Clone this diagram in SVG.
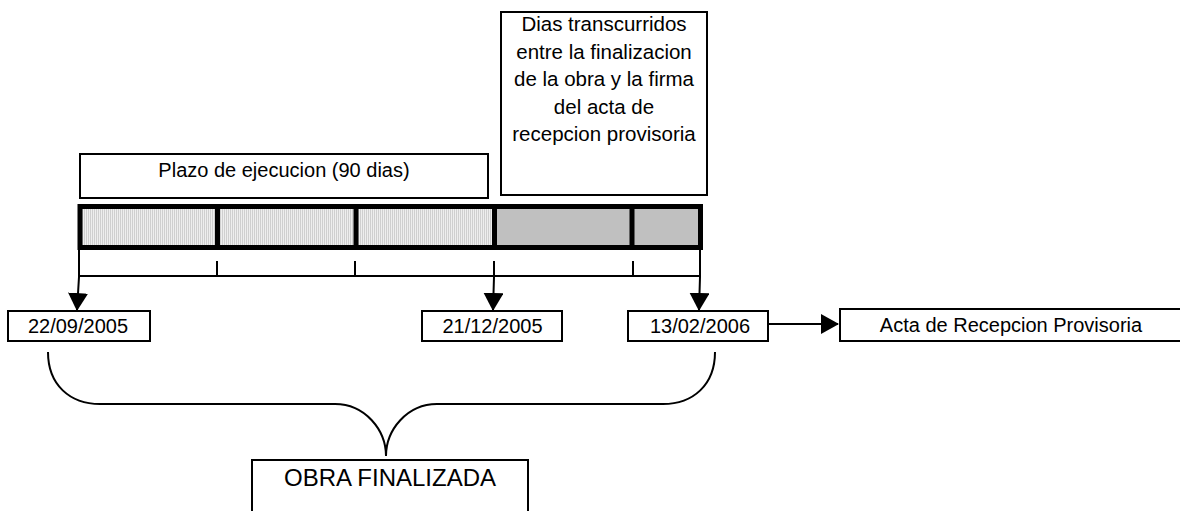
<svg xmlns="http://www.w3.org/2000/svg" width="1180" height="511" viewBox="0 0 1180 511">
<style>
.box{fill:#fff;stroke:#000;stroke-width:2}
.t{font-family:"Liberation Sans",Arial,sans-serif;font-size:20px;fill:#000;text-anchor:middle}
.ln{stroke:#000;stroke-width:2;fill:none}
.thick{stroke:#000;stroke-width:5;fill:none}
</style>
<defs>
<pattern id="stip" width="2" height="2" patternUnits="userSpaceOnUse">
<rect width="2" height="2" fill="#eeeeee"/>
<rect width="1" height="2" fill="#cfcfcf"/>
</pattern>
<marker id="ah" markerWidth="18" markerHeight="20" refX="17" refY="10" orient="auto" markerUnits="userSpaceOnUse" viewBox="0 0 18 20">
<path d="M0,0 L18,10 L0,20 Z" fill="#000"/>
</marker>
</defs>
<g id="dias">
<rect class="box" x="501" y="12" width="206" height="183"/>
<text class="t" x="604" y="31" style="font-size:20.5px">Dias transcurridos</text>
<text class="t" x="604" y="58.5" style="font-size:20.5px">entre la finalizacion</text>
<text class="t" x="604" y="86" style="font-size:20.5px">de la obra y la firma</text>
<text class="t" x="604" y="113.5" style="font-size:20.5px">del acta de</text>
<text class="t" x="604" y="141" style="font-size:20.5px">recepcion provisoria</text>
</g>
<g id="plazo">
<rect class="box" x="80" y="154" width="408" height="44"/>
<text class="t" x="284" y="177">Plazo de ejecucion (90 dias)</text>
</g>
<g id="bar">
<rect x="80" y="206.5" width="414.5" height="41" fill="url(#stip)"/>
<rect x="494.5" y="206.5" width="206" height="41" fill="#c0c0c0"/>
<rect class="thick" x="80" y="206.5" width="620.5" height="41"/>
<line class="thick" x1="217.5" y1="206.5" x2="217.5" y2="247.5"/>
<line class="thick" x1="356" y1="206.5" x2="356" y2="247.5"/>
<line class="thick" x1="494.5" y1="206.5" x2="494.5" y2="247.5"/>
<line class="thick" x1="632" y1="206.5" x2="632" y2="247.5"/>
</g>
<g id="scale">
<line class="ln" x1="79" y1="276" x2="701" y2="276"/>
<line class="ln" x1="217" y1="261" x2="217" y2="276"/>
<line class="ln" x1="355" y1="261" x2="355" y2="276"/>
<line class="ln" x1="633" y1="261" x2="633" y2="276"/>
</g>
<g id="d1">
<rect class="box" x="8" y="311" width="142" height="30"/>
<text class="t" x="78" y="333">22/09/2005</text>
</g>
<g id="d2">
<rect class="box" x="422" y="311" width="140" height="30"/>
<text class="t" x="492.5" y="333">21/12/2005</text>
</g>
<g id="d3">
<rect class="box" x="628" y="311" width="140" height="30"/>
<text class="t" x="700" y="333">13/02/2006</text>
</g>
<g id="acta">
<rect class="box" x="840" y="309" width="345" height="32"/>
<text class="t" x="1011" y="332">Acta de Recepcion Provisoria</text>
</g>
<g id="obra">
<rect class="box" x="252" y="460" width="276" height="60"/>
<text class="t" x="390" y="486" style="font-size:24px">OBRA FINALIZADA</text>
</g>
<g id="connectors">
<path class="ln" d="M79,249 L79,277 L77,310" marker-end="url(#ah)"/>
<path class="ln" d="M494,261 L494,277 L493,310" marker-end="url(#ah)"/>
<path class="ln" d="M700,249 L700,277 L699,310" marker-end="url(#ah)"/>
<line class="ln" x1="768" y1="324" x2="838" y2="324" marker-end="url(#ah)"/>
<path class="ln" d="M48,352 C48,385 70,404 100,404 L335,404 C365,404 386,430 386,456 C386,430 407,404 437,404 L663,404 C693,404 715,385 715,352"/>
</g>
</svg>
